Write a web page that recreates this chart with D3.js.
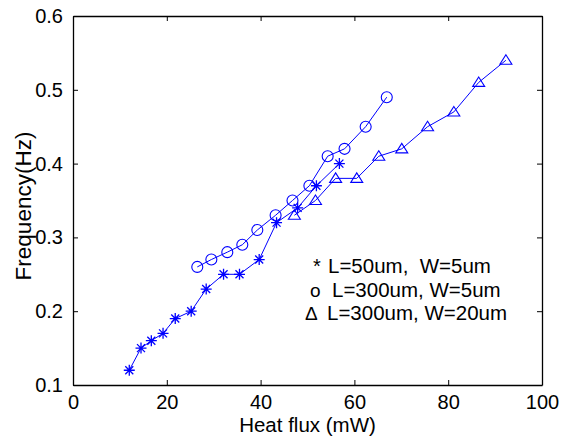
<!DOCTYPE html>
<html>
<head>
<meta charset="utf-8">
<script src="https://cdn.jsdelivr.net/npm/d3@7"></script>
<style>
  body { margin: 0; background: #fff; }
  text { font-family: Arial, "Liberation Sans", sans-serif; }
</style>
</head>
<body>
<svg id="chart"></svg>
<script>
// Data
const starX = [12.0, 14.5, 16.7, 19.2, 21.8, 25.2, 28.4, 32.1, 35.5, 39.7, 43.4, 47.9, 51.9, 56.8];
const starY = [0.12, 0.15, 0.16, 0.17, 0.19, 0.20, 0.23, 0.25, 0.25, 0.27, 0.32, 0.34, 0.37, 0.40];

const circX = [26.5, 29.5, 32.9, 36.1, 39.3, 43.2, 46.8, 50.4, 54.3, 57.9, 62.4, 66.9];
const circY = [0.26, 0.27, 0.28, 0.29, 0.31, 0.33, 0.35, 0.37, 0.41, 0.42, 0.45, 0.49];

const triX = [47.2, 51.7, 56.0, 60.5, 65.2, 70.1, 75.6, 81.2, 86.5, 92.3];
const triY = [0.33, 0.35, 0.38, 0.38, 0.41, 0.42, 0.45, 0.47, 0.51, 0.54];

const xTicks = [0, 20, 40, 60, 80, 100];
const yTicks = [0.1, 0.2, 0.3, 0.4, 0.5, 0.6];

const legendItems = [
  { sym: '*', label: 'L=50um,  W=5um' },
  { sym: 'o', label: 'L=300um, W=5um' },
  { sym: '\u0394', label: 'L=300um, W=20um' }
];

// Set Size
const width = 570;
const height = 439;
const margin = { top: 16, right: 28, bottom: 54, left: 73 };
const blue = '#0000ff';

const svg = d3.select('#chart')
  .attr('width', width)
  .attr('height', height);

const x = d3.scaleLinear().domain([0, 100]).range([margin.left, width - margin.right]);
const y = d3.scaleLinear().domain([0.1, 0.6]).range([height - margin.bottom, margin.top]);

// Axes, ticks pointing inward on all four sides
svg.append('g')
  .attr('transform', `translate(0, ${y(0.1)})`)
  .call(d3.axisBottom(x).tickValues(xTicks).tickSizeInner(-5).tickSizeOuter(0).tickPadding(10));
svg.append('g')
  .attr('transform', `translate(${x(0)}, 0)`)
  .call(d3.axisLeft(y).tickValues(yTicks).tickSizeInner(-5).tickSizeOuter(0).tickPadding(10)
    .tickFormat(d3.format('.1f')));
svg.append('g')
  .attr('transform', `translate(0, ${y(0.6)})`)
  .call(d3.axisTop(x).tickValues(xTicks).tickSizeInner(-5).tickSizeOuter(0).tickFormat(''));
svg.append('g')
  .attr('transform', `translate(${x(100)}, 0)`)
  .call(d3.axisRight(y).tickValues(yTicks).tickSizeInner(-5).tickSizeOuter(0).tickFormat(''));

svg.selectAll('.domain').attr('stroke', '#000').attr('stroke-width', 1.3);
svg.selectAll('.tick line').attr('stroke', '#000');
svg.selectAll('.tick text').attr('font-size', 20).attr('fill', '#000')
  .attr('font-family', 'Arial, "Liberation Sans", sans-serif');

// Axis labels
svg.append('text')
  .attr('x', x(50))
  .attr('y', 432)
  .attr('text-anchor', 'middle')
  .attr('font-size', 20.5)
  .text('Heat flux (mW)');
svg.append('text')
  .attr('transform', 'translate(31, 206) rotate(-90)')
  .attr('text-anchor', 'middle')
  .attr('font-size', 22.5)
  .text('Frequency(Hz)');

// Series
const line = d3.line().x(d => x(d[0])).y(d => y(d[1]));
const series = [
  { xs: starX, ys: starY, marker: 'star' },
  { xs: circX, ys: circY, marker: 'circle' },
  { xs: triX, ys: triY, marker: 'triangle' }
];

series.forEach(s => {
  const pts = s.xs.map((v, i) => [v, s.ys[i]]);
  svg.append('path')
    .datum(pts)
    .attr('d', line)
    .attr('fill', 'none')
    .attr('stroke', blue)
    .attr('stroke-width', 1);

  const m = svg.append('g').selectAll('g')
    .data(pts)
    .enter()
    .append('g')
    .attr('transform', d => `translate(${x(d[0])}, ${y(d[1])})`);

  if (s.marker === 'star') {
    // plus and cross combined, like MATLAB '*'
    m.append('path')
      .attr('d', 'M-5.5,0H5.5M0,-5.5V5.5M-4,-4L4,4M-4,4L4,-4')
      .attr('stroke', blue)
      .attr('stroke-width', 1.3);
  } else if (s.marker === 'circle') {
    m.append('circle')
      .attr('r', 5.5)
      .attr('fill', 'none')
      .attr('stroke', blue)
      .attr('stroke-width', 1.1);
  } else {
    m.append('path')
      .attr('d', 'M0,-5.5L6,4L-6,4Z')
      .attr('fill', 'none')
      .attr('stroke', blue)
      .attr('stroke-width', 1.1);
  }
});

// Legend written as text lines
const legendSymX = [313, 310, 305];
const legendTextX = [328, 332, 327];
const legendY = [273, 297, 320];
legendItems.forEach((d, i) => {
  svg.append('text')
    .attr('x', legendSymX[i])
    .attr('y', legendY[i])
    .attr('font-family', '"Liberation Serif", "Times New Roman", serif')
    .attr('font-size', d.sym === '*' ? 20 : 19)
    .text(d.sym);
  svg.append('text')
    .attr('x', legendTextX[i])
    .attr('y', legendY[i])
    .attr('font-size', 20.5)
    .style('white-space', 'pre')
    .text(d.label);
});
</script>
</body>
</html>
